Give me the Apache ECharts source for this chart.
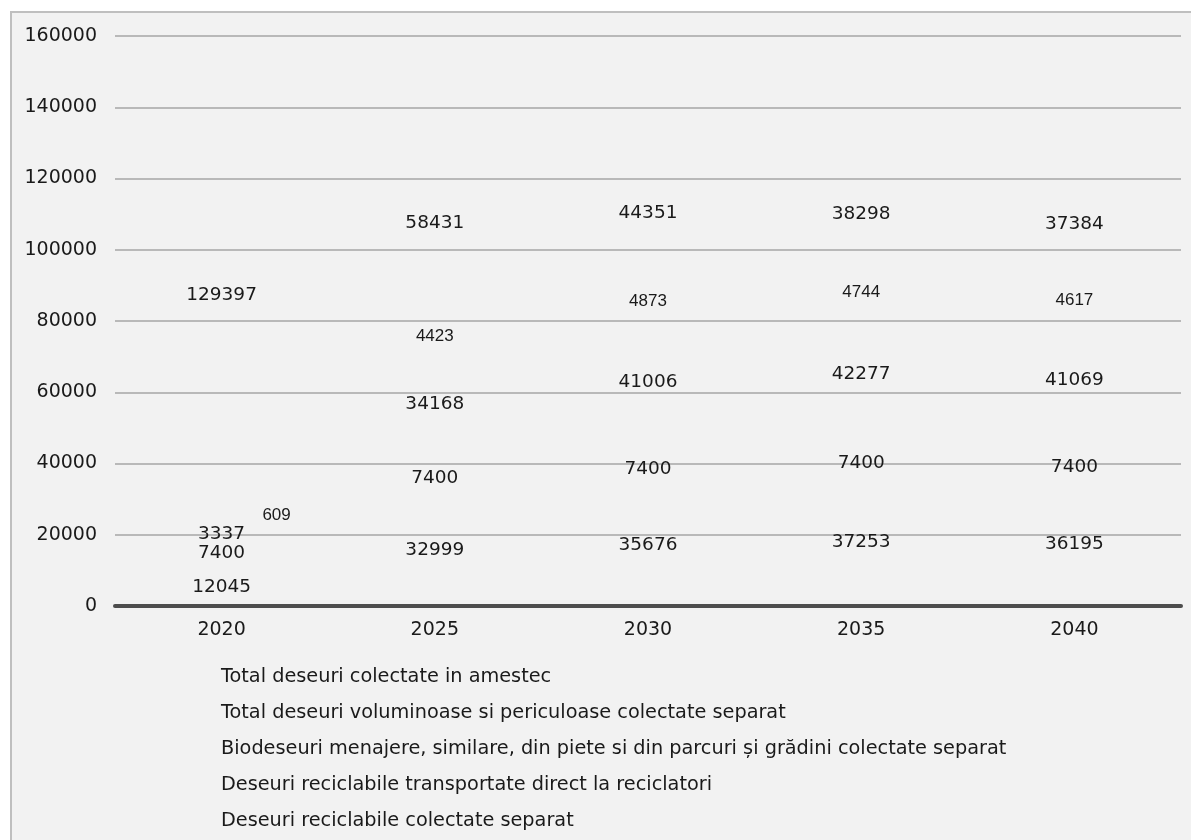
<!DOCTYPE html>
<html>
<head>
<meta charset="utf-8">
<script src="https://cdn.jsdelivr.net/npm/echarts@6/dist/echarts.min.js"></script>
<style>
html,body{margin:0;padding:0;background:#ffffff;}
#chart{width:1191px;height:840px;}
</style>
</head>
<body>
<div id="chart"></div>
<script>
const categories = ['2020', '2025', '2030', '2035', '2040'];
const reciclabileColectate = [12045, 32999, 35676, 37253, 36195];
const reciclabileDirect = [7400, 7400, 7400, 7400, 7400];
const biodeseuri = [3337, 34168, 41006, 42277, 41069];
const voluminoase = [609, 4423, 4873, 4744, 4617];
const amestec = [129397, 58431, 44351, 38298, 37384];

const names = {
  amestec: 'Total deseuri colectate in amestec',
  voluminoase: 'Total deseuri voluminoase si periculoase colectate separat',
  biodeseuri: 'Biodeseuri menajere, similare, din piete si din parcuri și grădini colectate separat',
  direct: 'Deseuri reciclabile transportate direct la reciclatori',
  colectate: 'Deseuri reciclabile colectate separat'
};

const chart = echarts.init(document.getElementById('chart'));
const bigLabel = {
  show: true, position: 'inside', color: '#1a1a1a', offset: [0, 3],
  fontFamily: 'DejaVu Sans', fontSize: 18.5,
  formatter: p => String(p.value)
};
const smallLabel = {
  show: true, position: 'inside', color: '#1a1a1a', offset: [0, 4],
  fontFamily: 'Liberation Sans', fontSize: 17,
  formatter: p => String(p.value)
};
function mk(name, data, label) {
  return {
    name: name, type: 'bar', stack: 'total', barWidth: '50%',
    itemStyle: { color: 'rgba(0,0,0,0)' },
    label: label, data: data
  };
}
chart.setOption({
  animation: false,
  backgroundColor: '#ffffff',
  graphic: [{
    type: 'rect', z: -10, silent: true,
    shape: { x: 11, y: 12, width: 1400, height: 1000 },
    style: { fill: '#f2f2f2', stroke: '#bfbfbf', lineWidth: 2 }
  }],
  grid: { left: 115, right: 10, top: 36, bottom: 234, containLabel: false },
  legend: {
    orient: 'vertical', left: 211, top: 662, itemWidth: 0, itemHeight: 19, itemGap: 17,
    icon: 'rect', selectedMode: false,
    textStyle: { fontFamily: 'DejaVu Sans', fontSize: 19.3, color: '#1a1a1a' },
    data: [names.amestec, names.voluminoase, names.biodeseuri, names.direct, names.colectate]
  },
  xAxis: {
    type: 'category', data: categories,
    axisLine: { lineStyle: { color: '#4d4d4d', width: 4 } },
    axisTick: { show: false },
    axisLabel: { color: '#1a1a1a', fontFamily: 'DejaVu Sans', fontSize: 19, margin: 15 }
  },
  yAxis: {
    type: 'value', min: 0, max: 160000, interval: 20000,
    axisLine: { show: false }, axisTick: { show: false },
    splitLine: { lineStyle: { color: '#a6a6a6', width: 1.5 } },
    axisLabel: { color: '#1a1a1a', fontFamily: 'DejaVu Sans', fontSize: 19, margin: 18,
      formatter: v => String(v) }
  },
  series: [
    mk(names.colectate, reciclabileColectate, bigLabel),
    mk(names.direct, reciclabileDirect, bigLabel),
    mk(names.biodeseuri, biodeseuri, bigLabel),
    mk(names.voluminoase, voluminoase.map((v, i) => i === 0 ? { value: v, label: { offset: [55, -8] } } : v), smallLabel),
    mk(names.amestec, amestec, bigLabel)
  ]
});
</script>
</body>
</html>
